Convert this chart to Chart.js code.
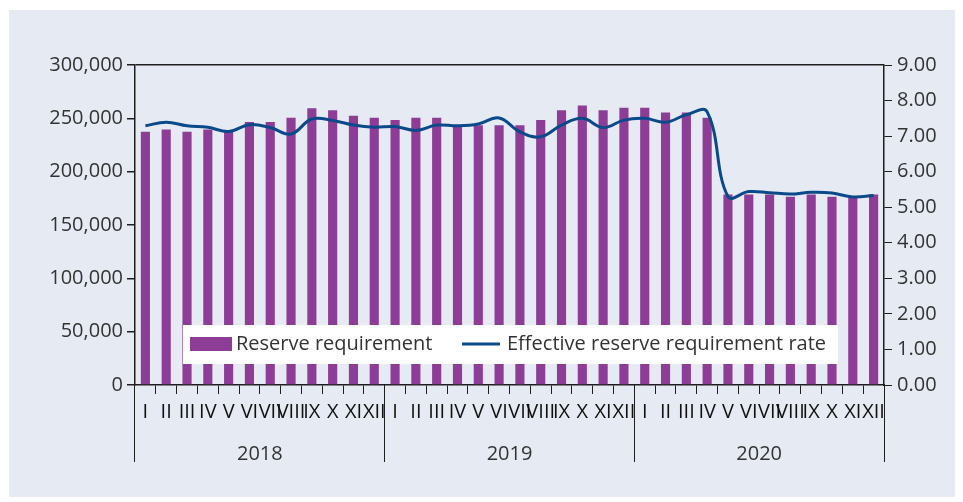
<!DOCTYPE html>
<html>
<head>
<meta charset="utf-8">
<script src="https://cdn.jsdelivr.net/npm/chart.js@4"></script>
<style>
  html, body { margin: 0; padding: 0; background: #ffffff; }
  #wrap { position: absolute; left: 9px; top: 10px; width: 946px; height: 487px; background: #e6ebf3; }
</style>
</head>
<body>
<div id="wrap"><canvas id="reserveChart"></canvas></div>
<script>
var months = ['I','II','III','IV','V','VI','VII','VIII','IX','X','XI','XII'];
var years = ['2018', '2019', '2020'];
var monthLabels = years.flatMap(function() { return months; });

// reserve requirement, by month 2018-2020
var reserveRequirement = [
  237500, 239500, 237500, 239500, 238500, 246500, 246500, 250500, 259500, 257500, 252500, 250500,
  248500, 250500, 250500, 243500, 243500, 243500, 243500, 248500, 257500, 262000, 257500, 260000,
  260000, 255500, 255500, 250500, 178500, 178500, 178500, 176500, 178500, 176500, 175500, 178500
];
// effective reserve requirement rate (%)
var effectiveRate = [
  7.29, 7.39, 7.29, 7.25, 7.13, 7.32, 7.24, 7.06, 7.48, 7.44, 7.31, 7.25,
  7.27, 7.16, 7.31, 7.29, 7.34, 7.51, 7.12, 6.98, 7.31, 7.50, 7.24, 7.45,
  7.50, 7.39, 7.60, 7.68, 5.30, 5.44, 5.41, 5.37, 5.42, 5.40, 5.29, 5.33
];
var leftTicks = [0, 300000, 50000];   // min, max, step
var rightTicks = [0, 9, 1];

var FONT = "'Open Sans', sans-serif";
var FS = 20;
var AXIS = '#1e1e1e';
var TEXT = '#333333';

// legend sits inside the plot, over the bars
var insideLegend = {
  id: 'insideLegend',
  afterDatasetsDraw: function(chart) {
    var ctx = chart.ctx, a = chart.chartArea;
    var bx = a.left + 48, by = a.bottom - 60, bw = a.right - 46 - bx, bh = 39;
    var cy = by + 19;
    ctx.save();
    ctx.fillStyle = '#ffffff';
    ctx.fillRect(bx, by, bw, bh);
    ctx.font = FS + 'px ' + FONT;
    ctx.textBaseline = 'middle';
    ctx.textAlign = 'left';
    var ds = chart.data.datasets;
    // bar item
    ctx.fillStyle = ds[0].backgroundColor;
    ctx.fillRect(bx + 7, cy - 7, 42, 14);
    ctx.fillStyle = TEXT;
    ctx.fillText(ds[0].label, bx + 53, cy);
    // line item
    ctx.strokeStyle = ds[1].borderColor;
    ctx.lineWidth = 3;
    ctx.beginPath();
    ctx.moveTo(bx + 279, cy);
    ctx.lineTo(bx + 317, cy);
    ctx.stroke();
    ctx.fillStyle = TEXT;
    ctx.fillText(ds[1].label, bx + 324, cy);
    ctx.restore();
  }
};

var ctxReserve = document.getElementById('reserveChart');
var reserveChart = new Chart(ctxReserve, {
  type: 'bar',
  data: {
    labels: monthLabels,
    datasets: [{
      type: 'bar',
      label: 'Reserve requirement',
      data: reserveRequirement,
      backgroundColor: '#8e3d96',
      barPercentage: 0.44,
      categoryPercentage: 1,
      yAxisID: 'y',
      order: 1
    }, {
      type: 'line',
      label: 'Effective reserve requirement rate',
      data: effectiveRate,
      borderColor: '#0b4a8a',
      borderWidth: 3,
      pointRadius: 0,
      tension: 0.4,
      fill: false,
      yAxisID: 'y1',
      order: 0
    }]
  },
  options: {
    responsive: true,
    maintainAspectRatio: false,
    animation: false,
    layout: { padding: { top: 55, left: 0, right: 0, bottom: 0 } },
    plugins: {
      legend: { display: false },
      tooltip: { enabled: false }
    },
    scales: {
      x: {
        type: 'category',
        position: 'bottom',
        weight: 1,
        offset: true,
        grid: { offset: true, drawOnChartArea: false, tickLength: 9, color: AXIS },
        border: { display: true, color: AXIS, width: 1.5 },
        ticks: { autoSkip: false, maxRotation: 0, minRotation: 0, padding: 6, color: '#111', font: { family: FONT, size: FS } },
        afterFit: function(s) { s.height = 112; }
      },
      x2: {
        type: 'category',
        labels: years,
        position: 'bottom',
        weight: 0,
        offset: true,
        grid: { offset: true, drawOnChartArea: false, tickLength: 77, color: AXIS },
        border: { display: false },
        // mirrored so the labels are not clipped to this zero-height axis
        ticks: { mirror: true, padding: -81, color: TEXT, font: { family: FONT, size: FS } },
        afterFit: function(s) { s.height = 0; }
      },
      y: {
        position: 'left',
        min: leftTicks[0],
        max: leftTicks[1],
        ticks: {
          stepSize: leftTicks[2],
          padding: 4,
          color: TEXT,
          font: { family: FONT, size: FS },
          callback: function(v) { return v.toLocaleString('en-US'); }
        },
        grid: {
          drawOnChartArea: true,
          tickLength: 8,
          color: function(c) { return c.tick && c.tick.value === leftTicks[1] ? AXIS : 'rgba(0,0,0,0)'; },
          tickColor: AXIS,
          lineWidth: 1.5
        },
        border: { display: true, color: AXIS, width: 1.5 },
        afterFit: function(s) { s.width = 126; }
      },
      y1: {
        position: 'right',
        min: rightTicks[0],
        max: rightTicks[1],
        ticks: {
          stepSize: rightTicks[2],
          padding: 5,
          color: TEXT,
          font: { family: FONT, size: FS },
          callback: function(v) { return v.toFixed(2); }
        },
        grid: { drawOnChartArea: false, tickLength: 8, color: AXIS },
        border: { display: true, color: AXIS, width: 1.5 },
        afterFit: function(s) { s.width = 71; }
      }
    }
  },
  plugins: [insideLegend]
});
</script>
</body>
</html>
